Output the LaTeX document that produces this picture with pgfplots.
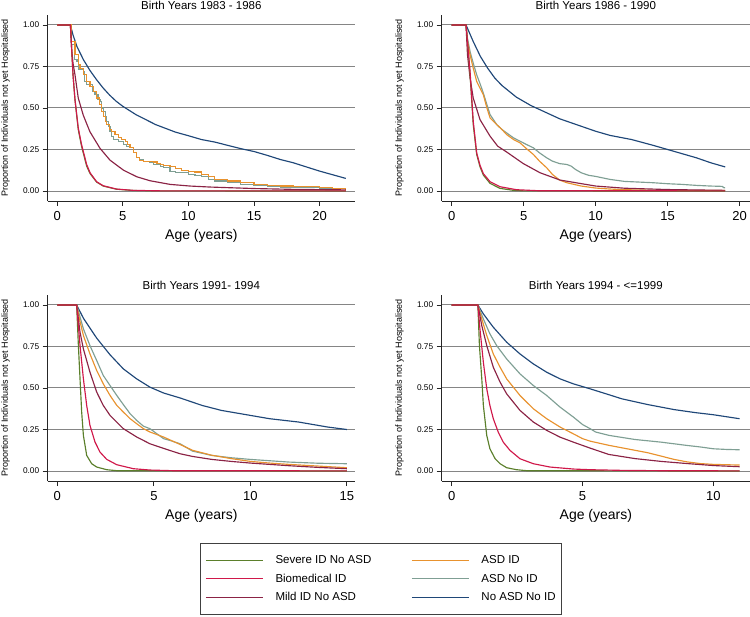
\documentclass[border=0pt]{standalone}
\usepackage{fontspec}
\setmainfont{Liberation Sans}
\usepackage{pgfplots}
\pgfplotsset{compat=1.18}
\definecolor{cGreen}{HTML}{5B7F2B}
\definecolor{cCrimson}{HTML}{D0184A}
\definecolor{cMaroon}{HTML}{8B2345}
\definecolor{cOrange}{HTML}{E8922E}
\definecolor{cTeal}{HTML}{7F9F94}
\definecolor{cBlue}{HTML}{1F4778}
\pgfplotsset{
  panel/.style={
    scale only axis, height=186pt,
    ymin=-0.06, ymax=1.06,
    axis x line*=bottom, axis y line*=left,
    axis line style={black!85, line width=0.9pt},
    ytick={0,0.25,0.5,0.75,1},
    ymajorgrids, grid style={black!48, line width=1pt},
    tick align=outside, major tick length=5pt,
    tick style={black!85, line width=0.8pt},
    /pgf/number format/assume math mode=true,
    yticklabel style={font=\fontsize{8.3}{9}\selectfont, /pgf/number format/.cd, fixed, fixed zerofill, precision=2},
    xticklabel style={font=\fontsize{13}{15}\selectfont, yshift=-2pt},
    xlabel={Age (years)},
    xlabel style={font=\fontsize{14}{16}\selectfont, yshift=-1.8pt},
    ylabel={Proportion of Individuals not yet Hospitalised},
    ylabel style={font=\fontsize{9}{10}\selectfont, at={(axis description cs:-0.137,0.5)}, anchor=center},
    title style={font=\fontsize{11.5}{13}\selectfont, at={(0.5,1)}, anchor=base, yshift=-0.5pt, inner sep=0pt},
    every axis plot/.append style={line width=1.15pt},
  },
}
\begin{document}
\begin{tikzpicture}
\path[use as bounding box] (0pt,0pt) rectangle (750pt,-617pt);

% ---------------- Panel 1 ----------------
\begin{axis}[panel, at={(47.7pt,-201pt)}, anchor=south west, width=307.3pt,
  xmin=-0.73, xmax=22.7, xtick={0,5,10,15,20}, title={Birth Years 1983 - 1986}]
\addplot[cBlue] coordinates {(0,1)(1,1)(1.2,0.94)(1.5,0.87)(2,0.79)(2.5,0.725)(3,0.67)(3.5,0.62)(4,0.577)(4.5,0.54)(5,0.51)(5.5,0.485)(6,0.46)(6.5,0.44)(7,0.42)(7.5,0.40)(8,0.385)(9,0.355)(10,0.333)(11,0.31)(12,0.295)(13,0.275)(14,0.255)(15,0.238)(16,0.215)(17,0.19)(18,0.17)(19,0.145)(20,0.12)(21,0.098)(22,0.076)};
\addplot[cTeal, const plot] coordinates {(0,1)(1,1)(1.1,0.88)(1.3,0.79)(1.5,0.78)(1.6,0.73)(2.0,0.72)(2.1,0.66)(2.24,0.64)(2.5,0.64)(2.7,0.6)(2.88,0.58)(3.1,0.55)(3.26,0.54)(3.4,0.5)(3.51,0.48)(3.65,0.45)(3.77,0.42)(3.9,0.39)(4.02,0.36)(4.15,0.33)(4.27,0.31)(4.66,0.30)(5.04,0.28)(5.3,0.27)(5.55,0.26)(5.8,0.23)(6.06,0.20)(6.3,0.19)(6.56,0.18)(7.07,0.17)(7.33,0.16)(7.84,0.15)(8.09,0.14)(8.6,0.12)(9,0.11)(10,0.10)(10.5,0.095)(11,0.085)(11.5,0.07)(12,0.06)(13,0.05)(14,0.04)(15,0.033)(16,0.028)(17,0.024)(18,0.02)(20,0.015)(22,0.01)};
\addplot[cOrange, const plot] coordinates {(0,1)(1,1)(1.1,0.9)(1.35,0.82)(1.6,0.76)(1.73,0.74)(2.0,0.70)(2.24,0.66)(2.5,0.63)(2.75,0.6)(3.0,0.56)(3.2,0.52)(3.38,0.48)(3.5,0.45)(3.65,0.42)(3.77,0.40)(4.0,0.37)(4.15,0.36)(4.4,0.34)(4.66,0.32)(4.9,0.31)(5.17,0.30)(5.35,0.28)(5.55,0.26)(5.8,0.23)(6.06,0.20)(6.3,0.185)(6.56,0.18)(7.07,0.18)(7.33,0.175)(7.6,0.165)(7.84,0.16)(8.1,0.155)(8.6,0.146)(9.0,0.135)(9.5,0.125)(10,0.12)(10.5,0.115)(11,0.10)(11.5,0.09)(12,0.07)(13,0.06)(14,0.05)(15,0.04)(16,0.035)(17,0.03)(18,0.025)(20,0.02)(21,0.015)(22,0.012)};
\addplot[cMaroon] coordinates {(0,1)(1,1)(1.1,0.85)(1.2,0.77)(1.35,0.70)(1.6,0.56)(1.98,0.457)(2.49,0.357)(3.26,0.257)(4.02,0.186)(5.04,0.126)(6.06,0.086)(7.07,0.062)(8.6,0.04)(10.13,0.03)(11.65,0.024)(15,0.015)(18,0.01)(22,0.007)};
\addplot[cGreen] coordinates {(0,1)(1,1)(1.1,0.85)(1.2,0.7)(1.35,0.55)(1.6,0.37)(1.85,0.27)(1.98,0.23)(2.24,0.15)(2.5,0.105)(3.0,0.054)(3.5,0.03)(4.5,0.011)(5.8,0.003)(8,0.001)(22,0)};
\addplot[cCrimson] coordinates {(0,1)(1,1)(1.1,0.85)(1.2,0.7)(1.35,0.55)(1.6,0.38)(1.85,0.28)(1.98,0.24)(2.24,0.16)(2.5,0.11)(3.0,0.056)(3.5,0.032)(4.5,0.012)(5.8,0.004)(8,0.001)(22,0.001)};
\end{axis}

% ---------------- Panel 2 ----------------
\begin{axis}[panel, at={(441.7pt,-201pt)}, anchor=south west, width=308.3pt,
  xmin=-0.69, xmax=20.72, xtick={0,5,10,15,20}, title={Birth Years 1986 - 1990}]
\addplot[cBlue] coordinates {(0,1)(1,1)(1.25,0.95)(1.5,0.9)(2,0.81)(2.5,0.74)(3,0.68)(3.5,0.635)(4,0.6)(4.5,0.565)(5,0.54)(5.5,0.515)(6,0.495)(7,0.455)(7.5,0.435)(8.5,0.405)(10,0.36)(11,0.335)(12.5,0.31)(14,0.275)(15,0.25)(16,0.225)(17,0.2)(18,0.17)(19,0.145)};
\addplot[cTeal] coordinates {(0,1)(1,1)(1.1,0.92)(1.28,0.84)(1.5,0.77)(1.74,0.70)(2.0,0.64)(2.2,0.59)(2.45,0.52)(2.67,0.46)(2.9,0.43)(3.13,0.40)(3.5,0.37)(3.82,0.35)(4.3,0.32)(4.75,0.30)(5.2,0.28)(5.68,0.26)(6.1,0.23)(6.6,0.20)(7,0.18)(7.5,0.165)(8,0.16)(8.3,0.15)(8.6,0.13)(9,0.11)(9.5,0.095)(10,0.088)(11,0.07)(12,0.058)(13,0.054)(14,0.05)(15,0.044)(16,0.04)(17,0.034)(18,0.03)(18.8,0.028)(18.9,0.02)(19,0.02)};
\addplot[cOrange] coordinates {(0,1)(1,1)(1.1,0.9)(1.28,0.82)(1.5,0.74)(1.74,0.66)(2.2,0.58)(2.45,0.5)(2.67,0.44)(2.9,0.42)(3.13,0.40)(3.5,0.37)(3.82,0.34)(4.3,0.31)(4.75,0.29)(5.2,0.255)(5.68,0.22)(6.1,0.18)(6.6,0.14)(7,0.1)(7.5,0.066)(8,0.05)(8.5,0.04)(9,0.03)(10,0.018)(11,0.012)(12,0.008)(14,0.005)(16,0.004)(19,0.003)};
\addplot[cMaroon] coordinates {(0,1)(1,1)(1.1,0.82)(1.28,0.68)(1.5,0.56)(1.97,0.43)(2.67,0.33)(3.2,0.27)(3.82,0.235)(4.98,0.165)(6.14,0.11)(7.53,0.066)(10,0.03)(12,0.017)(15,0.009)(19,0.004)};
\addplot[cGreen] coordinates {(0,1)(1,1)(1.1,0.9)(1.28,0.70)(1.5,0.40)(1.74,0.22)(1.97,0.146)(2.2,0.096)(2.67,0.046)(3.36,0.016)(4.3,0.004)(5,0.001)(19,0)};
\addplot[cCrimson] coordinates {(0,1)(1,1)(1.1,0.9)(1.28,0.72)(1.5,0.42)(1.74,0.23)(1.97,0.155)(2.2,0.105)(2.67,0.056)(3.36,0.026)(4.5,0.008)(6,0.002)(19,0.001)};
\end{axis}

% ---------------- Panel 3 ----------------
\begin{axis}[panel, at={(47.7pt,-481pt)}, anchor=south west, width=307.3pt,
  xmin=-0.5, xmax=15.42, xtick={0,5,10,15}, title={Birth Years 1991- 1994}]
\addplot[cBlue] coordinates {(0,1)(1,1)(1.35,0.92)(2.04,0.80)(2.73,0.70)(3.42,0.615)(4.11,0.555)(4.8,0.505)(5.5,0.47)(6.36,0.44)(7.5,0.395)(8.5,0.365)(10,0.335)(11,0.315)(12.5,0.295)(14,0.265)(15,0.25)};
\addplot[cTeal] coordinates {(0,1)(1,1)(1.35,0.856)(1.69,0.755)(2.04,0.665)(2.38,0.575)(2.73,0.515)(3.08,0.455)(3.42,0.40)(3.77,0.345)(4.11,0.305)(4.46,0.27)(4.8,0.255)(5.15,0.225)(5.5,0.195)(5.84,0.184)(6.36,0.164)(7,0.12)(8,0.094)(9,0.08)(10,0.07)(12,0.054)(13.5,0.047)(15,0.044)};
\addplot[cOrange] coordinates {(0,1)(1,1)(1.175,0.9)(1.35,0.816)(1.69,0.705)(2.04,0.605)(2.38,0.525)(2.73,0.455)(3.08,0.395)(3.42,0.355)(3.77,0.315)(4.11,0.285)(4.46,0.255)(4.8,0.235)(5.5,0.205)(6.36,0.16)(7,0.125)(8,0.095)(9,0.075)(10,0.058)(11,0.048)(12,0.04)(13.5,0.03)(15,0.02)};
\addplot[cMaroon] coordinates {(0,1)(1,1)(1.175,0.836)(1.35,0.735)(1.69,0.595)(2.04,0.475)(2.38,0.395)(2.73,0.335)(3.42,0.255)(4.11,0.205)(4.8,0.164)(5.67,0.13)(6.36,0.104)(7,0.088)(8,0.07)(9,0.058)(10,0.048)(12,0.032)(13.5,0.022)(15,0.014)};
\addplot[cGreen] coordinates {(0,1)(1,1)(1.09,0.755)(1.175,0.555)(1.26,0.355)(1.35,0.214)(1.52,0.094)(1.78,0.044)(2.04,0.024)(2.56,0.008)(3.08,0.002)(15,0)};
\addplot[cCrimson] coordinates {(0,1)(1,1)(1.175,0.755)(1.35,0.555)(1.52,0.395)(1.69,0.275)(1.95,0.175)(2.21,0.114)(2.56,0.07)(3.08,0.038)(3.94,0.014)(4.8,0.006)(6,0.002)(15,0.001)};
\end{axis}

% ---------------- Panel 4 ----------------
\begin{axis}[panel, at={(441.7pt,-481pt)}, anchor=south west, width=308.3pt,
  xmin=-0.382, xmax=11.4, xtick={0,5,10}, title={Birth Years 1994 - <=1999}]
\addplot[cBlue] coordinates {(0,1)(1,1)(1.21,0.946)(1.59,0.866)(2.1,0.776)(2.61,0.705)(3.12,0.645)(3.63,0.595)(4.14,0.555)(4.65,0.525)(5.29,0.495)(6,0.46)(6.5,0.435)(7.5,0.40)(8.5,0.37)(9.3,0.352)(10,0.339)(11,0.315)};
\addplot[cTeal] coordinates {(0,1)(1,1)(1.21,0.916)(1.46,0.826)(1.72,0.755)(2.1,0.675)(2.61,0.585)(3.12,0.515)(3.63,0.455)(4.14,0.385)(4.65,0.325)(5.0,0.28)(5.29,0.255)(5.5,0.235)(6,0.215)(7,0.19)(8,0.174)(9,0.154)(9.5,0.145)(10,0.134)(10.5,0.13)(11,0.128)};
\addplot[cOrange] coordinates {(0,1)(1,1)(1.15,0.916)(1.34,0.816)(1.59,0.705)(1.85,0.625)(2.1,0.555)(2.61,0.455)(3.12,0.375)(3.63,0.315)(4.14,0.265)(4.65,0.224)(5.0,0.195)(5.29,0.18)(6,0.155)(7,0.125)(7.5,0.11)(8,0.09)(8.5,0.07)(9,0.055)(9.5,0.045)(10,0.04)(11,0.036)};
\addplot[cMaroon] coordinates {(0,1)(1,1)(1.15,0.876)(1.34,0.755)(1.59,0.625)(1.85,0.535)(2.1,0.465)(2.61,0.365)(3.12,0.295)(3.63,0.245)(4.14,0.204)(4.65,0.174)(5.29,0.138)(6,0.1)(7,0.075)(8,0.058)(9,0.045)(10,0.033)(11,0.026)};
\addplot[cGreen] coordinates {(0,1)(1,1)(1.06,0.755)(1.15,0.555)(1.21,0.395)(1.34,0.214)(1.46,0.134)(1.66,0.074)(1.85,0.044)(2.1,0.02)(2.48,0.008)(2.87,0.002)(11,0)};
\addplot[cCrimson] coordinates {(0,1)(1,1)(1.08,0.855)(1.21,0.655)(1.34,0.495)(1.46,0.395)(1.59,0.315)(1.78,0.234)(1.97,0.174)(2.23,0.124)(2.61,0.074)(3.12,0.044)(3.76,0.024)(4.65,0.012)(5.29,0.008)(6.5,0.004)(8,0.002)(11,0.001)};
\end{axis}

% ---------------- Legend ----------------
\begin{axis}[at={(381pt,-579pt)}, anchor=center, scale only axis, width=300pt, height=50pt,
  hide axis, xmin=0, xmax=1, ymin=0, ymax=1,
  legend columns=2, legend cell align=left,
  legend image code/.code={\draw[#1, line width=1.1pt] (0pt,0pt) -- (57pt,0pt);},
  legend style={at={(0.5,0.5)}, anchor=center, draw=black!75, line width=0.8pt,
    font=\fontsize{11.5}{13}\selectfont, inner xsep=5pt, inner ysep=11pt, row sep=6.8pt,
    nodes={inner sep=1pt},
    /tikz/every odd column/.append style={column sep=11pt},
    /tikz/every even column/.append style={column sep=39pt}}]
\addlegendimage{cGreen}\addlegendentry{Severe ID No ASD}
\addlegendimage{cOrange}\addlegendentry{ASD ID}
\addlegendimage{cCrimson}\addlegendentry{Biomedical ID}
\addlegendimage{cTeal}\addlegendentry{ASD No ID}
\addlegendimage{cMaroon}\addlegendentry{Mild ID No ASD}
\addlegendimage{cBlue}\addlegendentry{No ASD No ID}
\end{axis}
\end{tikzpicture}
\end{document}
